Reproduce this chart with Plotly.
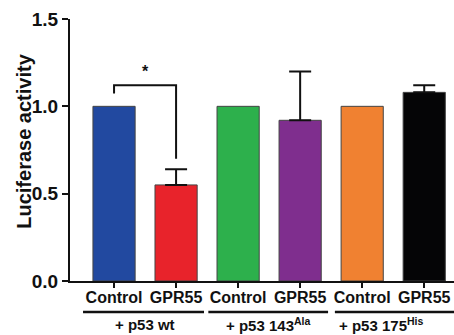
import plotly.graph_objects as go

categories = ["Control", "GPR55", "Control", "GPR55", "Control", "GPR55"]
values = [1.0, 0.55, 1.0, 0.92, 1.0, 1.08]
err_index = [1, 3, 5]
errors = [0.09, 0.28, 0.04]
colors = ["#2249A0", "#E8232B", "#2DB04C", "#7F2E8E", "#F08131", "#050506"]
groups = ["+ p53 wt", "+ p53 143<sup>Ala</sup>", "+ p53 175<sup>His</sup>"]
group_spans = [(-0.5, 1.45), (1.52, 3.45), (3.56, 5.7)]
group_label_x = [0.5, 2.48, 4.3]
tick_vals = [0.0, 0.5, 1.0, 1.5]
tick_text = ["0.0", "0.5", "1.0", "1.5"]
# significance bracket: left bottom, top, right bottom (y values)
sig_bracket = [1.074, 1.12, 0.70]

xs = list(range(len(categories)))

fig = go.Figure()
fig.add_trace(go.Bar(
    x=xs, y=values, width=0.68,
    marker=dict(color=colors, line=dict(color="#444444", width=1)),
    showlegend=False,
))
fig.add_trace(go.Scatter(
    x=err_index, y=[values[i] for i in err_index], mode="markers",
    marker=dict(size=1, color="rgba(0,0,0,0)"),
    error_y=dict(type="data", symmetric=False, array=errors,
                 arrayminus=[0] * len(errors), color="#111111",
                 thickness=2, width=11),
    showlegend=False, hoverinfo="skip",
))

# significance bracket
fig.add_trace(go.Scatter(
    x=[0, 0, 1, 1], y=[sig_bracket[0], sig_bracket[1], sig_bracket[1], sig_bracket[2]],
    mode="lines", line=dict(color="#111111", width=2), showlegend=False,
    hoverinfo="skip",
))

shapes = []
annotations = []
for (x0, x1), g, gx in zip(group_spans, groups, group_label_x):
    shapes.append(dict(type="line", xref="x", yref="paper", x0=x0, x1=x1,
                       y0=-0.118, y1=-0.118, line=dict(color="#111111", width=2.5)))
    annotations.append(dict(xref="x", yref="paper", x=gx,
                            y=-0.165, text="<b>" + g + "</b>", showarrow=False,
                            font=dict(size=15, color="#111111"), yanchor="middle"))
annotations.append(dict(xref="x", yref="y", x=0.5, y=1.14, text="<b>*</b>",
                        showarrow=False, yanchor="bottom",
                        font=dict(size=16, color="#111111")))
annotations.append(dict(xref="paper", yref="paper", x=-0.122, y=0.532,
                        text="<b>Luciferase activity</b>", textangle=-90,
                        showarrow=False, xanchor="center", yanchor="middle",
                        font=dict(size=20, color="#111111")))

fig.update_layout(
    width=454, height=335,
    margin=dict(l=70, r=0, t=19, b=54, autoexpand=False),
    plot_bgcolor="white", paper_bgcolor="white",
    font=dict(family="Liberation Sans, Arial, sans-serif", color="#111111"),
    shapes=shapes, annotations=annotations,
)
fig.update_xaxes(
    range=[-0.71, 5.48], tickvals=xs,
    ticktext=["<b>" + c + "</b>" for c in categories],
    tickfont=dict(size=16, color="#111111"),
    showline=True, linecolor="#111111", linewidth=2,
    ticks="outside", ticklen=5, tickwidth=2, tickcolor="#111111",
    ticklabelstandoff=-4,
    showgrid=False, zeroline=False, automargin=False,
)
fig.update_yaxes(
    range=[0, 1.5], tickvals=tick_vals,
    ticktext=["<b>" + t + "</b>" for t in tick_text],
    tickfont=dict(size=19, color="#111111"),
    showline=True, linecolor="#111111", linewidth=2,
    ticks="outside", ticklen=6, tickwidth=2, tickcolor="#111111",
    showgrid=False, zeroline=False, automargin=False,
)

fig.write_html("out.html", config={"displayModeBar": False},
               post_script="document.body.style.margin='0px';")
